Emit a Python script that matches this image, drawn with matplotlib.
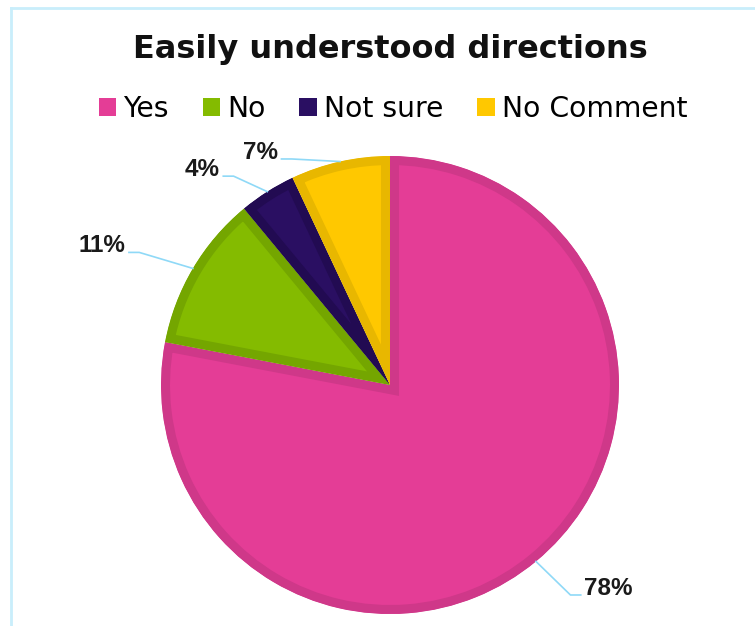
import matplotlib
matplotlib.use("Agg")
import matplotlib.pyplot as plt
import numpy as np
from matplotlib.patches import Patch
from matplotlib.lines import Line2D

# data
categories = ["Yes", "No", "Not sure", "No Comment"]
shares = [78, 11, 4, 7]
pct_labels = ["78%", "11%", "4%", "7%"]

# style
fills = ["#E43D96", "#84BB00", "#2A0F62", "#FFC800"]
edges = ["#CF3889", "#74A600", "#220B52", "#E8B700"]
leader_color = "#8FD9F7"

# where each leader line ends (data units, pie radius = 1)
label_end = [(0.833, -0.917), (-1.140, 0.579), (-0.728, 0.912), (-0.474, 0.987)]
label_side = ["left", "right", "right", "right"]

W, H = 755, 626
fig = plt.figure(figsize=(W / 100, H / 100), dpi=100)
fig.patch.set_facecolor("white")

# thin light-blue frame along top and left
fig.add_artist(Line2D([11 / W, 1.0], [1 - 8 / H, 1 - 8 / H], color="#C9EEFB", lw=2,
                      transform=fig.transFigure))
fig.add_artist(Line2D([11 / W, 11 / W], [0, 1 - 8 / H], color="#C9EEFB", lw=2,
                      transform=fig.transFigure))

R = 229
cx, cy = 390, 385
ax = fig.add_axes([(cx - R) / W, (H - cy - R) / H, 2 * R / W, 2 * R / H])

wedges, _ = ax.pie(shares, colors=fills, startangle=90, counterclock=False,
                   wedgeprops=dict(linewidth=13, joinstyle="miter"))
# keep the border inside each slice
for w, ec in zip(wedges, edges):
    w.set_edgecolor(ec)
    w.set_clip_on(True)
    w.set_clip_path(w)

ax.set_xlim(-1, 1)
ax.set_ylim(-1, 1)
ax.set_aspect("equal")
ax.axis("off")

# leader lines and percentage labels
for w, txt, (ex, ey), side in zip(wedges, pct_labels, label_end, label_side):
    mid = np.deg2rad((w.theta1 + w.theta2) / 2)
    px, py = np.cos(mid), np.sin(mid)
    step = 0.045 if side == "left" else -0.045
    elbow_x = ex - step
    ax.plot([px, elbow_x, ex], [py, ey, ey], color=leader_color, lw=1.2, clip_on=False)
    gap = 0.014 if side == "left" else -0.014
    ax.text(ex + gap, ey, txt, ha=side, va="baseline", fontsize=17.5,
            fontweight="bold", family="Liberation Sans", color="#1a1a1a")

fig.text(390 / W, 1 - 58 / H, "Easily understood directions", ha="center", va="baseline",
         fontsize=23, fontweight="bold", family="DejaVu Sans", color="#111111")

handles = [Patch(facecolor=c, edgecolor="none") for c in fills]
fig.legend(handles, categories, loc="center", bbox_to_anchor=(393 / W, 1 - 109 / H),
           ncol=4, frameon=False, handlelength=0.62, handleheight=0.62,
           handletextpad=0.25, columnspacing=1.2, prop={"family": "DejaVu Sans", "size": 20.3})

fig.savefig("out.png", dpi=100, facecolor="white")
